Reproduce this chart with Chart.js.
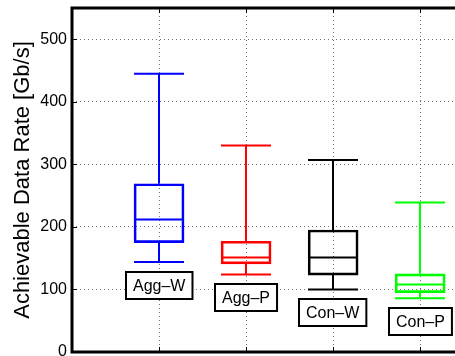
<!DOCTYPE html>
<html>
<head>
<meta charset="utf-8">
<script src="https://cdn.jsdelivr.net/npm/chart.js@4"></script>
<style>
    html, body { margin: 0; padding: 0; background: #fff; overflow: hidden; }
    canvas { display: block; }
</style>
</head>
<body>
<canvas id="rate-chart" width="455" height="356"></canvas>
<script>
// box plot values, Gb/s
const categories = ['Agg\u2013W', 'Agg\u2013P', 'Con\u2013W', 'Con\u2013P'];
const positions = [1, 2, 3, 4];
const whiskerLow = [144, 124, 100, 86];
const boxLow = [175, 141, 123, 95];
const medians = [212, 151, 151, 108];
const boxHigh = [269, 177, 195, 125];
const whiskerHigh = [445, 330, 307, 239];
const colors = ['#0000ff', '#ff0000', '#000000', '#00ff00'];
const yTicks = [0, 100, 200, 300, 400, 500];

(function () {
    const FONT = '"Liberation Sans", Arial, Helvetica, sans-serif';
    const BOX_WIDTH = 50;

    const boxPlotExtras = {
        id: 'boxPlotExtras',
        afterDatasetsDraw(chart) {
            const { ctx, scales: { x, y } } = chart;
            const half = BOX_WIDTH / 2;
            ctx.save();
            ctx.lineWidth = 2;
            positions.forEach((pos, i) => {
                const cx = Math.round(x.getPixelForValue(pos));
                const yMax = y.getPixelForValue(whiskerHigh[i]);
                const yQ3 = y.getPixelForValue(boxHigh[i]);
                const yMed = y.getPixelForValue(medians[i]);
                const yQ1 = y.getPixelForValue(boxLow[i]);
                const yMin = y.getPixelForValue(whiskerLow[i]);

                ctx.strokeStyle = colors[i];
                ctx.beginPath();
                ctx.moveTo(cx, yQ3);
                ctx.lineTo(cx, yMax);
                ctx.moveTo(cx - half, yMax);
                ctx.lineTo(cx + half, yMax);
                ctx.moveTo(cx, yQ1);
                ctx.lineTo(cx, yMin);
                ctx.moveTo(cx - half, yMin);
                ctx.lineTo(cx + half, yMin);
                ctx.moveTo(cx - half, yMed);
                ctx.lineTo(cx + half, yMed);
                ctx.stroke();

                // name tag under the lower whisker
                ctx.font = '16px ' + FONT;
                const w = ctx.measureText(categories[i]).width + 14;
                const h = 27;
                const top = Math.round(yMin) + 10;
                const left = Math.round(cx - w / 2);
                ctx.fillStyle = '#fff';
                ctx.fillRect(left, top, w, h);
                ctx.strokeStyle = '#000';
                ctx.strokeRect(left, top, w, h);
                ctx.fillStyle = '#000';
                ctx.textAlign = 'center';
                ctx.textBaseline = 'middle';
                ctx.fillText(categories[i], left + w / 2, top + h / 2 + 1);
            });
            ctx.restore();
        },
        afterDraw(chart) {
            const { ctx, chartArea: { left, top, right, bottom }, scales: { x, y } } = chart;
            ctx.save();
            ctx.strokeStyle = '#000';
            // inward tick marks
            ctx.lineWidth = 1;
            ctx.beginPath();
            yTicks.forEach((v) => {
                const py = Math.round(y.getPixelForValue(v)) + 0.5;
                ctx.moveTo(left, py);
                ctx.lineTo(left + 5, py);
            });
            positions.forEach((v) => {
                const px = Math.round(x.getPixelForValue(v)) + 0.5;
                ctx.moveTo(px, bottom);
                ctx.lineTo(px, bottom - 5);
                ctx.moveTo(px, top);
                ctx.lineTo(px, top + 5);
            });
            ctx.stroke();
            // axes frame (right side is cut off)
            ctx.lineWidth = 3;
            ctx.beginPath();
            ctx.moveTo(right + 2, top);
            ctx.lineTo(left, top);
            ctx.lineTo(left, bottom);
            ctx.lineTo(right + 2, bottom);
            ctx.stroke();
            ctx.restore();
        }
    };

    const ctx = document.getElementById('rate-chart');

    new Chart(ctx, {
        type: 'bar',
        data: {
            datasets: [{
                data: positions.map((pos, i) => ({ x: pos, y: [boxLow[i], boxHigh[i]] })),
                backgroundColor: 'rgba(0,0,0,0)',
                borderColor: colors,
                borderWidth: 2,
                borderSkipped: false,
                barThickness: BOX_WIDTH,
            }]
        },
        options: {
            responsive: false,
            animation: false,
            devicePixelRatio: 1,
            layout: { padding: { top: 8, right: 0, bottom: 4, left: 0 } },
            plugins: {
                legend: { display: false },
                tooltip: { enabled: false },
            },
            scales: {
                x: {
                    type: 'linear',
                    offset: false,
                    min: 0,
                    max: 4.4,
                    ticks: { display: false, includeBounds: false },
                    afterBuildTicks: (scale) => {
                        scale.ticks = positions.map((v) => ({ value: v }));
                    },
                    afterFit: (scale) => {
                        scale.height = 0;
                        scale.paddingLeft = 0;
                        scale.paddingRight = 0;
                    },
                    grid: { offset: false, color: 'rgba(0,0,0,0.55)', lineWidth: 1, drawTicks: false },
                    border: { display: false, dash: [1, 3] },
                },
                y: {
                    min: 0,
                    max: 550,
                    ticks: {
                        includeBounds: false,
                        padding: 5,
                        color: '#000',
                        font: { family: FONT, size: 16 },
                    },
                    afterBuildTicks: (scale) => {
                        scale.ticks = yTicks.map((v) => ({ value: v }));
                    },
                    afterFit: (scale) => {
                        scale.width = 72;
                        scale.paddingTop = 0;
                        scale.paddingBottom = 0;
                    },
                    grid: { color: 'rgba(0,0,0,0.55)', lineWidth: 1, drawTicks: false },
                    border: { display: false, dash: [1, 3] },
                    title: {
                        display: true,
                        text: 'Achievable Data Rate [Gb/s]',
                        color: '#000',
                        font: { family: FONT, size: 22 },
                        padding: { top: 10, bottom: 0 },
                    },
                },
            },
        },
        plugins: [boxPlotExtras],
    });
})();
</script>
</body>
</html>
